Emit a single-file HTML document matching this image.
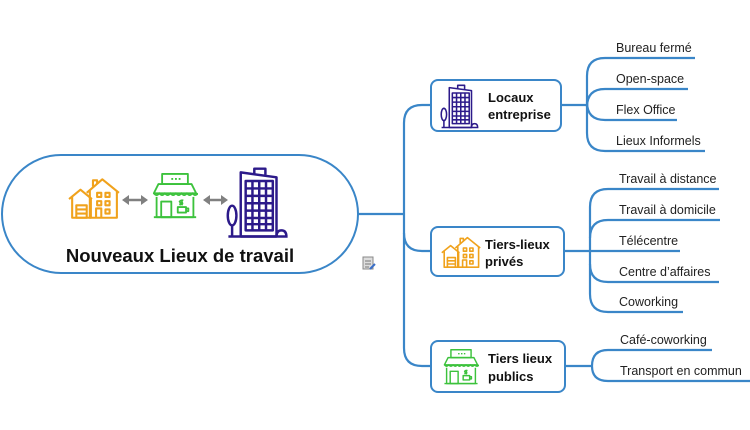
<!DOCTYPE html>
<html><head><meta charset="utf-8"><style>
html,body{margin:0;padding:0;background:#fff;width:750px;height:430px;overflow:hidden}
svg{display:block}
text{font-family:"Liberation Sans",sans-serif}
</style></head><body>
<svg width="750" height="430" viewBox="0 0 750 430" xmlns="http://www.w3.org/2000/svg">
<defs>
<symbol id="house" viewBox="0 0 100 80">
 <g fill="none" stroke="#f0a21c" stroke-width="4" stroke-linejoin="round">
  <path d="M2 42 L24 24 L46 42"/>
  <path d="M8 38 V78 H44 V40"/>
  <rect x="16" y="54" width="20" height="24"/>
  <path d="M16 62 H36 M16 70 H36"/>
  <path d="M36 30 L66 4 L98 30"/>
  <path d="M42 26 V78 H94 V26"/>
  <path d="M48 18 V6 H56 V12"/>
  <rect x="56" y="30" width="8" height="8"/><rect x="72" y="30" width="8" height="8"/>
  <rect x="56" y="46" width="8" height="8"/><rect x="72" y="46" width="8" height="8"/>
  <path d="M54 78 V60 H64 V78"/><rect x="72" y="62" width="8" height="8"/>
 </g>
</symbol>
<symbol id="shop" viewBox="0 0 100 100">
 <g fill="none" stroke="#3cc23c" stroke-width="4" stroke-linejoin="round">
  <rect x="22" y="2" width="56" height="22"/>
  <path d="M42 13h4M50 13h4M58 13h4"/>
  <path d="M14 24 H86 L96 44 H4 Z"/>
  <path d="M4 44 q6 8 12 0 q6 8 12 0 q6 8 12 0 q6 8 12 0 q6 8 12 0 q6 8 12 0 q6 8 12 0 q6 8 12 0"/>
  <path d="M10 52 V96 H90 V52"/>
  <path d="M4 96 H96"/>
  <rect x="20" y="62" width="22" height="34"/>
  <path d="M56 74 H74 V86 H56 Z M74 77 h5 v6 h-5 M60 70 q4 -4 0 -8 q4 -4 8 -2 M64 70 q4 -4 0 -8"/>
 </g>
</symbol>
<symbol id="bldg" viewBox="0 0 100 120">
 <g fill="none" stroke="#2c1a8a" stroke-width="4" stroke-linejoin="round">
  <path d="M22 116 V12 L80 20 V116 Z"/>
  <path d="M44 14 V6 H62 V16"/>
  <path d="M30 26 H74 V106 H30 Z"/>
  <path d="M30 38 H74 M30 50 H74 M30 62 H74 M30 74 H74 M30 86 H74 M30 96 H74 M41 26 V106 M52 26 V106 M63 26 V106"/>
  <ellipse cx="8" cy="82" rx="7" ry="16"/>
  <path d="M8 98 V116 M2 116 H98 M80 116 q0 -10 8 -10 q8 0 8 10"/>
 </g>
</symbol>
</defs>

<rect x="2" y="155" width="356" height="118" rx="59" fill="#fff" stroke="#3a86c8" stroke-width="2"/>
<use href="#house" x="68" y="177" width="52" height="42"/>
<use href="#shop" x="152" y="173" width="46" height="46"/>
<use href="#bldg" x="226" y="165" width="64" height="74"/>
<g stroke="#808080" stroke-width="2.5" fill="#808080">
 <line x1="127" y1="200" x2="143" y2="200"/>
 <path d="M122 200 l7 -5 v10z M148 200 l-7 -5 v10z" stroke="none"/>
 <line x1="208" y1="200" x2="223" y2="200"/>
 <path d="M203 200 l7 -5 v10z M228 200 l-7 -5 v10z" stroke="none"/>
</g>
<text x="180" y="262" font-size="18.5" font-weight="bold" text-anchor="middle" fill="#111">Nouveaux Lieux de travail</text>
<g transform="translate(363,257)"><rect x="0" y="0" width="10" height="12" fill="#ddd" stroke="#888"/><path d="M2 4h6M2 7h6M2 10h4" stroke="#777"/><path d="M7 12 l5 -5" stroke="#3a6fc8" stroke-width="2"/></g>

<g fill="none" stroke="#3a86c8" stroke-width="2.2">
 <path d="M358 214 H404"/>
 <path d="M431 105 H422 Q404 105 404 123 V348 Q404 366 422 366 H431"/>
 <path d="M404 233 Q404 251 422 251 H431"/>
 <path d="M561 105 H587"/>
 <path d="M695 58 H605 Q587 58 587 76 V133 Q587 151 605 151 H705"/>
 <path d="M688 89 H605 Q587 89 587 107"/>
 <path d="M677 120 H605 Q587 120 587 102"/>
 <path d="M564 251 H680"/>
 <path d="M719 189 H608 Q590 189 590 207 V294 Q590 312 608 312 H683"/>
 <path d="M720 220 H608 Q590 220 590 238"/>
 <path d="M719 282 H608 Q590 282 590 264"/>
 <path d="M565 366 H592"/>
 <path d="M712 350 H608 Q592 350 592 366 Q592 381 608 381 H750"/>
</g>

<g fill="#fff" stroke="#3a86c8" stroke-width="2">
 <rect x="431" y="80" width="130" height="51" rx="7"/>
 <rect x="431" y="227" width="133" height="49" rx="7"/>
 <rect x="431" y="341" width="134" height="51" rx="7"/>
</g>
<use href="#bldg" x="440" y="83" width="40" height="46"/>
<use href="#house" x="441" y="235" width="40" height="34"/>
<use href="#shop" x="443" y="347" width="36" height="40"/>
<g font-size="13" font-weight="bold" fill="#111">
 <text x="488" y="102">Locaux</text><text x="488" y="119">entreprise</text>
 <text x="485" y="249">Tiers-lieux</text><text x="485" y="266">privés</text>
 <text x="488" y="363">Tiers lieux</text><text x="488" y="381">publics</text>
</g>
<g font-size="12.5" fill="#222">
 <text x="616" y="52">Bureau fermé</text>
 <text x="616" y="83">Open-space</text>
 <text x="616" y="114">Flex Office</text>
 <text x="616" y="145">Lieux Informels</text>
 <text x="619" y="183">Travail à distance</text>
 <text x="619" y="214">Travail à domicile</text>
 <text x="619" y="245">Télécentre</text>
 <text x="619" y="276">Centre d’affaires</text>
 <text x="619" y="306">Coworking</text>
 <text x="620" y="344">Café-coworking</text>
 <text x="620" y="375">Transport en commun</text>
</g>
</svg>
</body></html>
